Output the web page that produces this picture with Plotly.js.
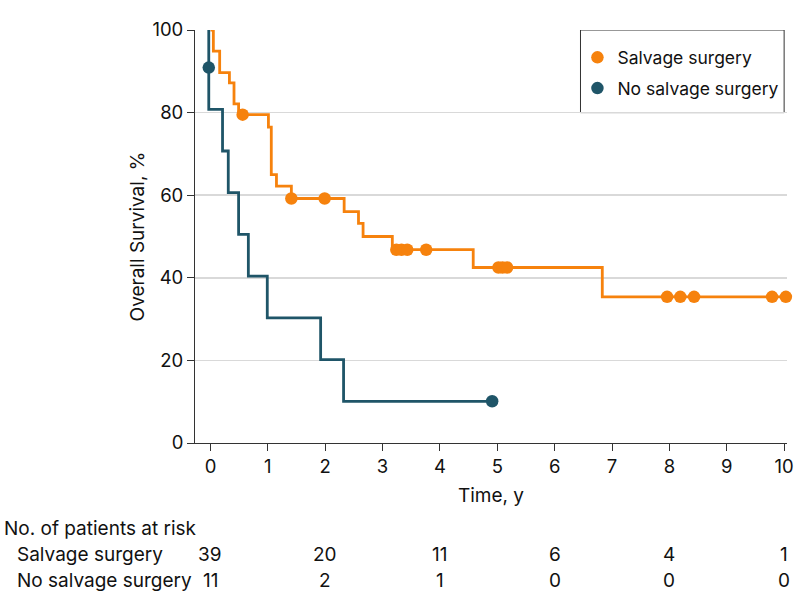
<!DOCTYPE html>
<html>
<head>
<meta charset="utf-8">
<script src="https://cdn.plot.ly/plotly-3.0.1.min.js"></script>
<style>html,body{margin:0;padding:0;background:#fff;}#chart{width:798px;height:609px;}</style>
</head>
<body>
<div id="chart"></div>
<script>
// Kaplan-Meier step data (time in years, survival %)
const salvageTimes = [0, 0.05, 0.16, 0.33, 0.41, 0.49, 1.01, 1.06, 1.15, 1.41, 2.33, 2.58, 2.66, 3.17, 4.58, 6.83, 10.03];
const salvageSurv  = [100, 94.9, 89.7, 87.2, 82.1, 79.5, 76.5, 65.0, 62.2, 59.2, 56.0, 53.2, 50.0, 46.8, 42.5, 35.4, 35.4];
const salvageCensorTimes = [0.56, 1.41, 1.99, 3.24, 3.33, 3.43, 3.76, 5.02, 5.09, 5.17, 7.96, 8.19, 8.43, 9.79, 10.03];
const salvageCensorSurv  = [79.5, 59.2, 59.2, 46.8, 46.8, 46.8, 46.8, 42.5, 42.5, 42.5, 35.4, 35.4, 35.4, 35.4, 35.4];

const noSalvageTimes = [-0.03, -0.03, 0.21, 0.31, 0.49, 0.66, 0.99, 1.92, 2.32, 4.91];
const noSalvageSurv  = [100, 80.8, 70.7, 60.6, 50.5, 40.4, 30.3, 20.2, 10.1, 10.1];
const noSalvageCensorTimes = [-0.03, 4.91];
const noSalvageCensorSurv  = [90.9, 10.1];

// Number at risk table
const riskTimes = [0, 2, 4, 6, 8, 10];
const riskSalvage = [39, 20, 11, 6, 4, 1];
const riskNoSalvage = [11, 2, 1, 0, 0, 0];
const groupNames = ["Salvage surgery", "No salvage surgery"];

const xTicks = [0,1,2,3,4,5,6,7,8,9,10];
const yTicks = [0,20,40,60,80,100];

const ORANGE = "#F6820D";
const TEAL = "#1f5568";
const FONT = "Inter, 'Open Sans', sans-serif";
const FS = 19;
const FS_TICK = 18.5;
const FS_LEG = 17.5;
const TXT = "#111";

const traces = [
  {x: salvageTimes, y: salvageSurv, mode: "lines", line: {shape: "hv", color: ORANGE, width: 2.8}, showlegend: false, hoverinfo: "skip"},
  {x: noSalvageTimes, y: noSalvageSurv, mode: "lines", line: {shape: "hv", color: TEAL, width: 2.8}, showlegend: false, hoverinfo: "skip"},
  {x: salvageCensorTimes, y: salvageCensorSurv, mode: "markers", name: groupNames[0], legendgroup: "a",
   marker: {color: ORANGE, size: 12.5}, cliponaxis: false},
  {x: noSalvageCensorTimes, y: noSalvageCensorSurv, mode: "markers", name: groupNames[1], legendgroup: "b",
   marker: {color: TEAL, size: 12.5}, cliponaxis: false}
];

const annotations = [];
annotations.push({xref: "paper", yref: "paper", x: -0.326, y: -0.206, xanchor: "left", yanchor: "middle",
  text: "No. of patients at risk", showarrow: false, font: {family: FONT, size: FS, color: TXT}});
[riskSalvage, riskNoSalvage].forEach((row, i) => {
  const yy = i === 0 ? -0.271 : -0.332;
  annotations.push({xref: "paper", yref: "paper", x: -0.304, y: yy, xanchor: "left", yanchor: "middle",
    text: groupNames[i], showarrow: false, font: {family: FONT, size: FS, color: TXT}});
  row.forEach((v, j) => {
    annotations.push({xref: "x", yref: "paper", x: riskTimes[j], y: yy, xanchor: "center", yanchor: "middle",
      text: String(v), showarrow: false, font: {family: FONT, size: FS, color: TXT}});
  });
});

const layout = {
  width: 798, height: 609,
  margin: {l: 195, r: 11, t: 30, b: 166},
  paper_bgcolor: "#fff", plot_bgcolor: "#fff",
  font: {family: FONT, size: FS, color: TXT},
  xaxis: {
    range: [-0.27, 10.05], tickvals: xTicks, ticks: "outside", ticklen: 7, tickcolor: "#333", tickwidth: 1,
    showline: true, linecolor: "#333", linewidth: 1, showgrid: false, zeroline: false,
    title: {text: "Time, y", standoff: 12, font: {family: FONT, size: FS, color: TXT}},
    tickfont: {family: FONT, size: FS_TICK, color: TXT}
  },
  yaxis: {
    range: [0, 100], tickvals: yTicks, ticks: "outside", ticklen: 7, tickcolor: "#333", tickwidth: 1,
    showline: true, linecolor: "#333", linewidth: 1, showgrid: true, gridcolor: "#d9d9d9", gridwidth: 1.5,
    zeroline: false,
    title: {text: "Overall Survival, %", standoff: 2, font: {family: FONT, size: FS, color: TXT}},
    tickfont: {family: FONT, size: FS_TICK, color: TXT}
  },
  shapes: [
    {type: "rect", xref: "x", yref: "y", x0: 6.45, x1: 10, y0: 80, y1: 100, layer: "below",
     line: {color: "#333", width: 1}, fillcolor: "#fff"}
  ],
  legend: {x: 0.646, y: 0.977, xanchor: "left", yanchor: "top", bgcolor: "rgba(0,0,0,0)", borderwidth: 0,
    font: {family: FONT, size: FS_LEG, color: TXT}, traceorder: "grouped", tracegroupgap: 5},
  annotations: annotations,
  showlegend: true
};

Plotly.newPlot("chart", traces, layout, {displayModeBar: false, staticPlot: true});
</script>
</body>
</html>
